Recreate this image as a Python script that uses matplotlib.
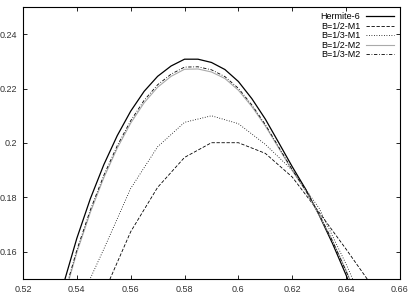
import matplotlib
matplotlib.use("Agg")
import matplotlib.pyplot as plt

plt.rcParams['font.family'] = ['Liberation Sans', 'DejaVu Sans']

# fine grid (Hermite-6 and the M2 runs)
x_fine = [0.535, 0.540, 0.545, 0.550, 0.555, 0.560, 0.565, 0.570, 0.575, 0.580,
          0.585, 0.590, 0.595, 0.600, 0.605, 0.610, 0.615, 0.620, 0.625, 0.630,
          0.635, 0.640, 0.645]
hermite6 = [0.1480, 0.1650, 0.1795, 0.1920, 0.2027, 0.2117, 0.2190, 0.2245, 0.2283, 0.2308,
            0.2308, 0.2296, 0.2270, 0.2226, 0.2163, 0.2088, 0.2001, 0.1913, 0.1830, 0.1735,
            0.1630, 0.1515, 0.1390]
b12_m2 = [0.1427, 0.1598, 0.1745, 0.1872, 0.1981, 0.2073, 0.2148, 0.2205, 0.2245, 0.2271,
          0.2272, 0.2261, 0.2237, 0.2194, 0.2134, 0.2063, 0.1981, 0.1899, 0.1824, 0.1737,
          0.1640, 0.1532, 0.1413]
b13_m2 = [0.1435, 0.1607, 0.1754, 0.1881, 0.1990, 0.2082, 0.2157, 0.2214, 0.2253, 0.2279,
          0.2280, 0.2269, 0.2244, 0.2201, 0.2140, 0.2068, 0.1985, 0.1902, 0.1826, 0.1738,
          0.1639, 0.1529, 0.1408]

# coarse grid (M1 runs)
x_b12_m1 = [0.55, 0.56, 0.57, 0.58, 0.59, 0.60, 0.61, 0.62, 0.63, 0.64, 0.65]
b12_m1 = [0.1448, 0.1674, 0.1837, 0.1947, 0.2001, 0.2001, 0.1962, 0.1875, 0.1745, 0.1610, 0.1470]
x_b13_m1 = [0.54, 0.55, 0.56, 0.57, 0.58, 0.59, 0.60, 0.61, 0.62, 0.63, 0.64, 0.65]
b13_m1 = [0.1394, 0.1610, 0.1833, 0.1986, 0.2076, 0.2100, 0.2071, 0.1995, 0.1900, 0.1760, 0.1555, 0.1330]

fig = plt.figure(figsize=(4.11, 3.02), dpi=100)
ax = fig.add_axes([0.056, 0.076, 0.917, 0.901])

ax.plot(x_fine, hermite6, color='black', lw=0.9, label='Hermite-6')
ax.plot(x_b12_m1, b12_m1, color='black', lw=0.6, ls=(0, (4, 2)), label='B=1/2-M1')
ax.plot(x_b13_m1, b13_m1, color='black', lw=0.6, ls=(0, (1, 2)), label='B=1/3-M1')
ax.plot(x_fine, b12_m2, color='#aaaaaa', lw=0.8, label='B=1/2-M2')
ax.plot(x_fine, b13_m2, color='black', lw=0.6, ls=(0, (4, 2, 1, 2)), label='B=1/3-M2')

ax.set_xlim(0.52, 0.66)
ax.set_ylim(0.15, 0.25)
ax.set_xticks([0.52, 0.54, 0.56, 0.58, 0.6, 0.62, 0.64, 0.66])
ax.set_xticklabels(['0.52', '0.54', '0.56', '0.58', '0.6', '0.62', '0.64', '0.66'])
ax.set_yticks([0.16, 0.18, 0.2, 0.22, 0.24])
ax.set_yticklabels(['0.16', '0.18', '0.2', '0.22', '0.24'])
ax.tick_params(direction='in', length=3, width=0.6, labelsize=6.5,
               top=True, right=True, pad=4, colors='black', labelcolor='#333333')
for s in ax.spines.values():
    s.set_linewidth(0.8)

ax.legend(loc='upper right', frameon=False, markerfirst=False, fontsize=6.5,
          labelspacing=0.05, handlelength=3.2, handletextpad=0.6,
          borderaxespad=0.4, borderpad=0.2)

fig.savefig('out.png', dpi=100)
